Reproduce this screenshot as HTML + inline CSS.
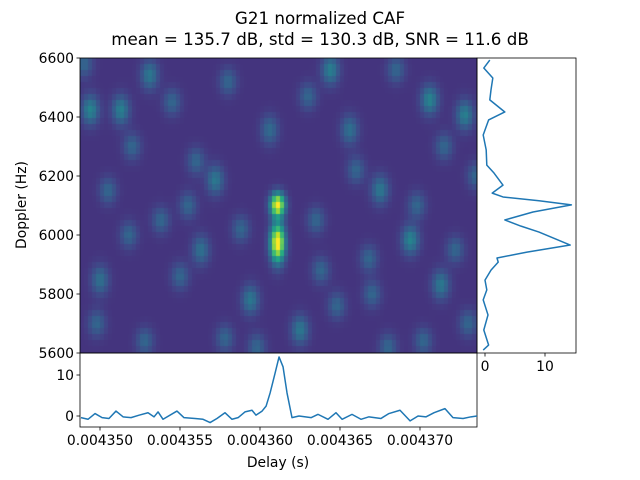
<!DOCTYPE html>
<html><head><meta charset="utf-8">
<style>
body{margin:0;background:#fff;}
#wrap{position:relative;width:640px;height:480px;font-family:"DejaVu Sans",sans-serif;}
canvas{position:absolute;left:80px;top:58px;}
svg{position:absolute;left:0;top:0;}
</style></head><body>
<div id="wrap">
<canvas id="hm" width="397" height="295"></canvas>
<svg id="s" width="640" height="480"></svg>
</div>
<script>
// data
const delayTicks=[4350,4355,4360,4365,4370];
const delayTickLabels=["0.004350","0.004355","0.004360","0.004365","0.004370"];
const dopplerTicks=[5600,5800,6000,6200,6400,6600];
const bottomTicks=[0,10];
const rightTicks=[0,10];
const delayProfX=[4348.81,4349.25,4349.69,4350.13,4350.56,4351.0,4351.44,4351.94,4352.44,4353.0,4353.38,4353.63,4353.94,4354.81,4355.25,4355.94,4356.44,4356.88,4357.31,4357.81,4358.25,4358.63,4359.06,4359.5,4359.75,4360.13,4360.38,4360.63,4360.94,4361.19,4361.44,4361.69,4362.0,4362.44,4363.19,4363.63,4364.25,4364.75,4365.13,4365.75,4366.31,4366.81,4367.56,4368.06,4368.75,4369.38,4369.88,4370.38,4370.88,4371.56,4372.06,4372.69,4373.19,4373.56];
const delayProfV=[-0.4,-0.8,0.6,-0.4,-0.6,1.2,-0.2,-0.4,0.2,0.8,-0.2,1.0,-0.8,1.2,-0.4,-0.6,-0.8,-1.6,-0.6,0.8,-0.8,-0.4,1.0,1.4,0.2,1.2,2.4,5.6,10.4,14.4,12,5.6,-0.4,0,-0.4,0.4,-0.8,0.8,-0.8,0.4,-0.8,-0.2,-0.6,0.6,1.4,-1.2,0,-0.2,0.8,1.8,-0.4,-0.6,-0.2,0];
const dopProfY=[6593,6566,6532,6492,6458,6417,6390,6339,6288,6237,6210,6169,6142,6129,6116,6102,6078,6051,6030,6010,5966,5942,5922,5908,5881,5847,5814,5780,5729,5678,5627,5610];
const dopProfV=[0.8,-0.2,1.3,1.0,0.8,3.3,0.6,-0.3,0.2,0.3,1.5,3.0,1.2,3.0,9,14.4,8,3.3,6,9,14.2,7,2,2.2,1.0,0,0.3,-0.3,0.5,-0.2,0.6,-0.3];
const blobDelay=[4361.1,4361.1,4349.4,4351.3,4353.1,4364.4,4370.6,4372.8,4369.4,4371.3,4359.4,4362.5,4357.2,4367.5,4356.3,4350,4365.6,4360.6,
 4349.0,4352.0,4354.5,4356.0,4358.0,4363.0,4366.0,4368.5,4371.5,4373.5,4350.5,4353.8,4355.5,4358.8,4363.5,4366.8,4369.8,4372.2,4349.8,4352.8,4357.8,4364.8,4368.0,4373.0,4351.8,4355.0,4359.8,4363.8,4367.0,4370.2];
const blobDoppler=[6102,5973,6424,6424,6542,6559,6458,6407,5983,5831,5780,5678,6186,6153,5949,5847,6356,6356,
 6580,6300,6450,6250,6520,6470,6220,6560,6300,6200,6150,6050,6100,6020,6050,5920,6100,5950,5700,5640,5650,5760,5620,5700,6000,5860,5620,5880,5800,5640];
const blobAmp=[0.88,0.92,0.3,0.28,0.25,0.28,0.3,0.28,0.3,0.25,0.25,0.25,0.25,0.25,0.22,0.22,0.22,0.2,
 0.18,0.18,0.18,0.18,0.18,0.18,0.18,0.18,0.18,0.18,0.18,0.18,0.18,0.18,0.18,0.18,0.18,0.18,0.18,0.18,0.18,0.18,0.18,0.18,0.18,0.18,0.18,0.18,0.18,0.18];
const blobSy=[8,13,10,10,10,10,10,10,10,10,10,10,10,10,10,10,10,10,
 9,9,9,9,9,9,9,9,9,9,9,9,9,9,9,9,9,9,9,9,9,9,9,9,9,9,9,9,9,9];

const X0=80,X1=477,Y0=58,Y1=353;
const dx=d=>X0+(d-4348.75)*16;
const dy=f=>Y0+(6600-f)*0.295;
const byB=v=>416-v*4.1;
const rx=v=>485+v*6;

// heatmap
const vir=["#440154","#482475","#414487","#355f8d","#2a788e","#21918c","#22a884","#44bf70","#7ad151","#bddf26","#fde725"].map(h=>[parseInt(h.slice(1,3),16),parseInt(h.slice(3,5),16),parseInt(h.slice(5,7),16)]);
function cmap(t){t=Math.max(0,Math.min(1,t))*10;const i=Math.min(9,Math.floor(t)),f=t-i;return vir[i].map((c,k)=>Math.round(c+(vir[i+1][k]-c)*f));}
const ctx=document.getElementById('hm').getContext('2d');
for(let px=0;px<397;px+=4){for(let py=0;py<295;py+=6){
 let v=0.15;const cx=X0+px+2,cy=Y0+py+3;
 for(let b=0;b<blobDelay.length;b++){const ex=(cx-dx(blobDelay[b]))/(b<2?5:6),ey=(cy-dy(blobDoppler[b]))/blobSy[b];v+=blobAmp[b]*Math.exp(-(ex*ex+ey*ey)/2);}
 const c=cmap(v);ctx.fillStyle=`rgb(${c[0]},${c[1]},${c[2]})`;ctx.fillRect(px,py,4,6);}}

const s=document.getElementById('s');const NS="http://www.w3.org/2000/svg";
function el(t,a,txt){const e=document.createElementNS(NS,t);for(const k in a)e.setAttribute(k,a[k]);if(txt!==undefined)e.textContent=txt;s.appendChild(e);return e;}
const T={"font-family":"DejaVu Sans,sans-serif","font-size":"13.9px",fill:"#000"};
let e;
e=el('text',Object.assign({},T,{x:320,y:24,"text-anchor":"middle","font-size":"16.7px"}),"G21 normalized CAF");

e=el('text',Object.assign({},T,{x:320,y:45,"text-anchor":"middle","font-size":"16.7px"}),"mean = 135.7 dB, std = 130.3 dB, SNR = 11.6 dB");

// frames
e=el('rect',{x:X0,y:Y0,width:X1-X0,height:Y1-Y0,fill:"none",stroke:"#000","stroke-width":0.8});

e=el('rect',{x:477,y:Y0,width:99,height:Y1-Y0,fill:"none",stroke:"#000","stroke-width":0.8});

e=el('rect',{x:X0,y:353,width:X1-X0,height:74,fill:"none",stroke:"#000","stroke-width":0.8});

// doppler ticks
dopplerTicks.forEach(f=>{const y=dy(f);el('line',{x1:X0-3.5,x2:X0,y1:y,y2:y,stroke:"#000","stroke-width":0.8});
 e=el('text',Object.assign({},T,{x:X0-6,y:y+5,"text-anchor":"end"}),f);});
e=el('text',Object.assign({},T,{transform:"translate(26,205) rotate(-90)","text-anchor":"middle"}),"Doppler (Hz)");

// bottom ticks
delayTicks.forEach((d,i)=>{const x=dx(d);el('line',{x1:x,x2:x,y1:427,y2:430.5,stroke:"#000","stroke-width":0.8});
 e=el('text',Object.assign({},T,{x:x,y:445,"text-anchor":"middle"}),delayTickLabels[i]);});
e=el('text',Object.assign({},T,{x:278,y:467,"text-anchor":"middle"}),"Delay (s)");

bottomTicks.forEach(v=>{const y=byB(v);el('line',{x1:X0-3.5,x2:X0,y1:y,y2:y,stroke:"#000","stroke-width":0.8});
 e=el('text',Object.assign({},T,{x:X0-6,y:y+5,"text-anchor":"end"}),v);});
rightTicks.forEach(v=>{const x=rx(v);el('line',{x1:x,x2:x,y1:353,y2:356.5,stroke:"#000","stroke-width":0.8});
 e=el('text',Object.assign({},T,{x:x,y:371,"text-anchor":"middle"}),v);});
// profiles
e=el('polyline',{points:delayProfX.map((d,i)=>dx(d)+","+byB(delayProfV[i])).join(" "),fill:"none",stroke:"#1f77b4","stroke-width":1.5,"stroke-linejoin":"round"});

e=el('polyline',{points:dopProfY.map((f,i)=>rx(dopProfV[i])+","+dy(f)).join(" "),fill:"none",stroke:"#1f77b4","stroke-width":1.5,"stroke-linejoin":"round"});

</script>
</body></html>
